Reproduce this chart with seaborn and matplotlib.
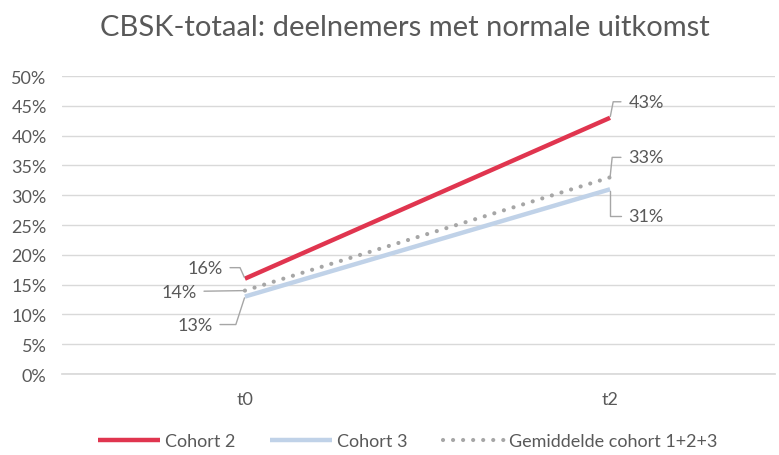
import matplotlib.pyplot as plt
import pandas as pd
import seaborn as sns
from matplotlib.ticker import PercentFormatter

tijdstip = ['t0', 't2']
cohort2 = [0.16, 0.43]
cohort3 = [0.13, 0.31]
gemiddeld = [0.14, 0.33]

sns.set_theme(style='white')
plt.rcParams['font.family'] = ['Lato', 'DejaVu Sans']

grijs = '#595959'
rood = '#E0354F'
blauw = '#C0D2E8'
stip = '#A6A6A6'

df = pd.DataFrame({'tijdstip': tijdstip * 3,
                   'waarde': cohort2 + cohort3 + gemiddeld,
                   'reeks': ['Cohort 2'] * 2 + ['Cohort 3'] * 2
                            + ['Gemiddelde cohort 1+2+3'] * 2})

fig = plt.figure(figsize=(7.79, 4.56), dpi=100)
ax = fig.add_axes([0.0796, 0.1776, 0.9154, 0.6534])

stijl = {'Cohort 2': dict(color=rood, lw=3.2, ls='-'),
         'Cohort 3': dict(color=blauw, lw=3.2, ls='-'),
         'Gemiddelde cohort 1+2+3': dict(color=stip, lw=3.0, ls=(0, (0.01, 2.4)))}

for naam, kw in stijl.items():
    sub = df[df.reeks == naam]
    sns.lineplot(data=sub, x='tijdstip', y='waarde', ax=ax, label=naam,
                 color=kw['color'], linewidth=kw['lw'], linestyle=kw['ls'],
                 solid_capstyle='butt', dash_capstyle='round')

ax.set_ylim(0, 0.5)
ax.set_yticks([i / 100 for i in range(0, 51, 5)])
ax.yaxis.set_major_formatter(PercentFormatter(1, decimals=0))
ax.set_xlim(-0.501, 1.452)
ax.grid(axis='y', color='#D9D9D9', linewidth=1)
ax.set_axisbelow(True)
for s in ['top', 'right', 'left']:
    ax.spines[s].set_visible(False)
ax.spines['bottom'].set_color('#D9D9D9')
ax.tick_params(axis='both', length=0, labelsize=13, labelcolor=grijs)
ax.tick_params(axis='x', pad=12)
ax.tick_params(axis='y', pad=11)
ax.set_xlabel('')
ax.set_ylabel('')

fig.suptitle('CBSK-totaal: deelnemers met normale uitkomst', x=0.52, y=0.968,
             fontsize=21, color=grijs)

# labels met verbindingslijnen
labels = [
    (0, cohort2[0], (-40, 11), 'angle,angleA=0,angleB=114'),
    (0, gemiddeld[0], (-66, -1), 'arc3,rad=0'),
    (0, cohort3[0], (-50, -28), 'angle,angleA=0,angleB=72'),
    (1, cohort2[1], (36, 16), 'angle,angleA=0,angleB=79'),
    (1, gemiddeld[1], (36, 20), 'angle,angleA=0,angleB=84'),
    (1, cohort3[1], (36, -27), 'angle,angleA=0,angleB=90'),
]
for x, y, off, cs in labels:
    ax.annotate(f'{round(y * 100)}%', xy=(x, y), xytext=off,
                textcoords='offset pixels', ha='center', va='center',
                fontsize=13, color=grijs,
                arrowprops=dict(arrowstyle='-', color='#A6A6A6', lw=1,
                                connectionstyle=cs, shrinkA=3, shrinkB=1))

leg = ax.legend(loc='upper center', bbox_to_anchor=(0.485, -0.145), ncol=3,
                frameon=False, fontsize=13, handlelength=3.4,
                handletextpad=0.28, columnspacing=1.95, labelcolor=grijs)

fig.savefig('out.png', dpi=100)
